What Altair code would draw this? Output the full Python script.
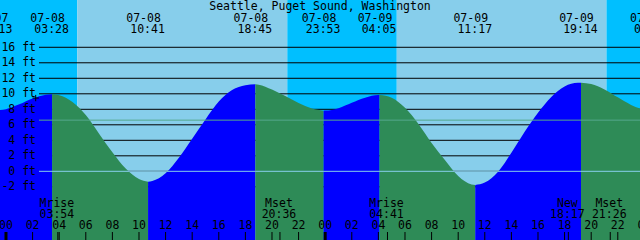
import altair as alt
import pandas as pd

# ---------------- data ----------------
title_text = "Seattle, Puget Sound, Washington"

# tide extremes: date, time, height (ft)
extreme_dates = ["07-07", "07-08", "07-08", "07-08", "07-08", "07-09", "07-09", "07-09", "07-10"]
extreme_times = ["23:13", "03:28", "10:41", "18:45", "23:53", "04:05", "11:17", "19:14", "00:34"]
extreme_heights = [7.85, 9.95, -1.34, 11.23, 7.82, 9.85, -1.77, 11.43, 7.86]

# curve heights read every hour from 07-08 00:00
sample_hours = list(range(0, 49))
sample_heights = [8.02, 8.64, 9.39, 9.89, 9.82, 8.95, 7.25, 4.85, 2.45, 0.35,
                  -1.0, -1.25, -0.25, 1.75, 4.2, 6.7, 9.0, 10.5, 11.1, 11.18,
                  10.55, 9.7, 8.8, 8.1, 7.83, 8.15, 8.85, 9.5, 9.85, 9.5,
                  8.2, 6.15, 3.65, 1.45, -0.6, -1.7, -1.45, -0.05, 2.4, 5.1,
                  7.55, 9.6, 10.95, 11.42, 11.25, 10.56, 9.54, 8.57, 7.96]

# sunrise / sunset alternating
sun_dates = ["07-08", "07-08", "07-09", "07-09"]
sun_times = ["05:22", "21:09", "05:23", "21:09"]

# moon events
moon_names = ["Mrise", "Mset", "Mrise", "New", "Mset"]
moon_dates = ["07-08", "07-08", "07-09", "07-09", "07-09"]
moon_times = ["03:54", "20:36", "04:41", "18:17", "21:26"]

axis_feet = [-2, 0, 2, 4, 6, 8, 10, 12, 14, 16]
hour_ticks = list(range(0, 50, 2))
msl_ft = 6.6
datum_ft = 0.0
mark_date, mark_time, mark_height = "07-08", "02:14", 9.45

# ---------------- styling ----------------
DAY = "#87CEEB"
NIGHT = "#00BFFF"
FLOOD = "#0000FF"
EBB = "#2E8B57"
MSL_COLOR = "#55A88C"
DATUM_COLOR = "#87CEEB"
FONT = "DejaVu Sans Mono"
FS = 11.5

T0, T1 = -0.45, 47.67
Y0, Y1 = -8.86, 22.1


def hrs(d, t):
    day = int(d[3:]) - 8
    hh, mm = t.split(":")
    return day * 24 + int(hh) + int(mm) / 60.0


xs = alt.Scale(domain=[T0, T1], nice=False, zero=False)
ys = alt.Scale(domain=[Y0, Y1], nice=False, zero=False)
X = alt.X("t:Q", scale=xs, axis=None)
X2 = alt.X2("t2:Q")
Y = alt.Y("h:Q", scale=ys, axis=None, stack=None)

# backgrounds
sun_t = [hrs(d, t) for d, t in zip(sun_dates, sun_times)]
edges = [T0 - 1] + sun_t + [T1 + 1]
bg = pd.DataFrame({
    "t": edges[:-1],
    "t2": edges[1:],
    "col": [NIGHT if i % 2 == 0 else DAY for i in range(len(edges) - 1)],
})
bg_layer = alt.Chart(bg).mark_rect(clip=True).encode(
    x=X, x2=X2, y=alt.value(0), y2=alt.value(240),
    color=alt.Color("col:N", scale=None))

# grid lines
grid = pd.DataFrame({"h": axis_feet, "lab": [f"{v} ft" for v in axis_feet]})
grid_layer = alt.Chart(grid).mark_rule(color="#000000", strokeWidth=1).encode(
    y=Y, x=alt.value(39), x2=alt.value(640))
ylab_layer = alt.Chart(grid).mark_text(
    align="right", baseline="alphabetic", dy=3.6, font=FONT, fontSize=FS, color="#000000"
).encode(y=Y, x=alt.value(36), text="lab:N")

# water areas, one per rising / falling stretch
ext_t = [hrs(d, t) for d, t in zip(extreme_dates, extreme_times)]
water_layers = []
for i in range(len(ext_t) - 1):
    ta, tb = ext_t[i], ext_t[i + 1]
    ha, hb = extreme_heights[i], extreme_heights[i + 1]
    col = FLOOD if hb > ha else EBB
    pts = [(ta, ha)] + [(s, v) for s, v in zip(sample_hours, sample_heights) if ta < s < tb] + [(tb, hb)]
    seg = pd.DataFrame({"t": [p[0] for p in pts], "h": [p[1] for p in pts],
                        "base": [Y0] * len(pts)})
    water_layers.append(
        alt.Chart(seg).mark_area(interpolate="monotone", clip=True, color=col, opacity=1).encode(
            x=X, y=Y, y2=alt.Y2("base:Q")))

# datum / msl lines
lines = pd.DataFrame({"h": [datum_ft, msl_ft], "col": [DATUM_COLOR, MSL_COLOR]})
lines_layer = alt.Chart(lines).mark_rule(strokeWidth=1).encode(
    y=Y, x=alt.value(39), x2=alt.value(640), color=alt.Color("col:N", scale=None))

# marker
mk = pd.DataFrame({"t": [hrs(mark_date, mark_time)], "h": [mark_height]})
mark_layer = alt.Chart(mk).mark_point(
    shape="M-1,0L1,0M0,-1L0,1", size=40, filled=False, color="#000000", strokeWidth=1, opacity=1
).encode(x=X, y=Y)

# top labels
ev = pd.DataFrame({"t": ext_t, "d": extreme_dates, "tm": extreme_times})
txt = dict(font=FONT, fontSize=FS, color="#000000", baseline="alphabetic", align="center")
evd_layer = alt.Chart(ev).mark_text(dx=-4.5, **txt).encode(x=X, y=alt.value(21.7), text="d:N")
evt_layer = alt.Chart(ev).mark_text(dx=-0.5, **txt).encode(x=X, y=alt.value(33.3), text="tm:N")

title_df = pd.DataFrame({"s": [title_text]})
title_layer = alt.Chart(title_df).mark_text(**txt).encode(
    x=alt.value(320), y=alt.value(9.5), text="s:N")

# hour ticks and labels
hk = pd.DataFrame({
    "t": hour_ticks,
    "lab": [f"{h % 24:02d}" for h in hour_ticks],
    "w": [3 if h % 24 == 0 else 1 for h in hour_ticks],
})
htick_layer = alt.Chart(hk).mark_rule(color="#000000").encode(
    x=X, y=alt.value(232), y2=alt.value(240),
    strokeWidth=alt.StrokeWidth("w:Q", scale=None))
hlab_layer = alt.Chart(hk).mark_text(**txt).encode(x=X, y=alt.value(229.3), text="lab:N")

# moon
mn = pd.DataFrame({
    "t": [hrs(d, t) for d, t in zip(moon_dates, moon_times)],
    "n": moon_names, "tm": moon_times})
mtick_layer = alt.Chart(mn).mark_rule(color="#000000", strokeWidth=1).encode(
    x=X, y=alt.value(232), y2=alt.value(240))
mname_layer = alt.Chart(mn).mark_text(dx=-1, **txt).encode(x=X, y=alt.value(206.7), text="n:N")
mtime_layer = alt.Chart(mn).mark_text(dx=-1, **txt).encode(x=X, y=alt.value(217.7), text="tm:N")

chart = alt.layer(
    bg_layer, grid_layer, *water_layers, lines_layer, ylab_layer, mark_layer,
    title_layer, evd_layer, evt_layer, htick_layer, hlab_layer,
    mtick_layer, mname_layer, mtime_layer,
).properties(
    width=640, height=240, padding=0, autosize=alt.AutoSizeParams(type="none")
).configure_view(strokeWidth=0)

chart.save("out.html", embed_options={"renderer": "svg", "actions": False})
